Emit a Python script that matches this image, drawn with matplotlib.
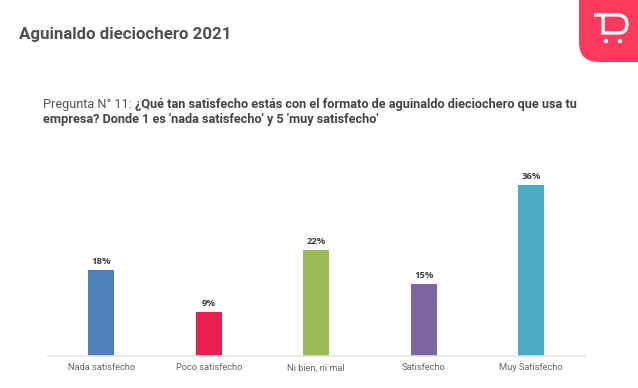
import matplotlib
matplotlib.use("Agg")
import matplotlib.pyplot as plt
from matplotlib.patches import FancyBboxPatch, Circle, PathPatch
from matplotlib.path import Path

categories = ["Nada satisfecho", "Poco satisfecho", "Ni bien, ni mal", "Satisfecho", "Muy Satisfecho"]
values = [18, 9.2, 22.2, 15, 36]
value_labels = ["18%", "9%", "22%", "15%", "36%"]
colors = ["#4F81BD", "#E8204E", "#9BBB59", "#8064A2", "#4BACC6"]

W, H = 638, 388
plt.rcParams['font.family'] = ['Roboto', 'DejaVu Sans']
fig = plt.figure(figsize=(W/100, H/100), dpi=100, facecolor="white")

# Chart axes
ax = fig.add_axes([47.5/W, 1-355.5/H, 537.5/W, 185/H])
ax.bar(range(5), values, width=0.242, color=colors, zorder=2)
ax.set_xlim(-0.5, 4.5)
ax.set_ylim(0, 185/4.74)
for s in ("top", "left", "right"):
    ax.spines[s].set_visible(False)
ax.spines["bottom"].set_color("#E4E4E4")
ax.spines["bottom"].set_linewidth(1.2)
ax.set_yticks([])
ax.set_xticks(range(5))
ax.set_xticklabels(categories, fontsize=6.7, color="#666666", va="baseline")
ax.tick_params(axis="x", length=0, pad=10.8)
for i, (v, lab) in enumerate(zip(values, value_labels)):
    ax.annotate(lab, (i, v), xytext=(0, 3.0), textcoords="offset points", ha="center", va="bottom",
                fontsize=6.8, fontweight="bold", color="#404040", family=["Open Sans", "DejaVu Sans"])

# Page text
fig.text(19/W, 1-35/H, "Aguinaldo dieciochero 2021", fontsize=12.2, fontweight="bold", color="#505050", va="center")
t1 = fig.text(43/W, 1-104.5/H, "Pregunta N° 11: ", fontsize=9.15, color="#555555", va="center")
fig.canvas.draw()
bb = t1.get_window_extent()
fig.text(bb.x1/W, 1-104.5/H, "¿Qué tan satisfecho estás con el formato de aguinaldo dieciochero que usa tu",
         fontsize=9.15, fontweight="bold", color="#444444", va="center")
fig.text(43/W, 1-119/H, "empresa? Donde 1 es 'nada satisfecho' y 5 'muy satisfecho'",
         fontsize=9.15, fontweight="bold", color="#444444", va="center")

# Logo in pixel coordinates
lg = fig.add_axes([0, 0, 1, 1], facecolor="none")
lg.set_xlim(0, W); lg.set_ylim(H, 0); lg.axis("off")
lg.add_patch(FancyBboxPatch((579, -30), 100, 92, boxstyle="round,pad=0,rounding_size=20",
                            fc="#FB3A5E", ec="none", clip_on=True))
mark = Path([(594, 15), (619, 15), (627, 16), (627, 24), (627, 33), (619, 33), (603, 33), (603, 15)],
            [Path.MOVETO, Path.LINETO, Path.CURVE3, Path.CURVE3, Path.CURVE3, Path.CURVE3, Path.LINETO, Path.LINETO])
lg.add_patch(PathPatch(mark, fc="none", ec="white", lw=2.4))
lg.add_patch(Circle((606, 41), 2.2, fc="white", ec="none"))
lg.add_patch(Circle((620, 41), 2.2, fc="white", ec="none"))

fig.savefig("out.png", dpi=100)
